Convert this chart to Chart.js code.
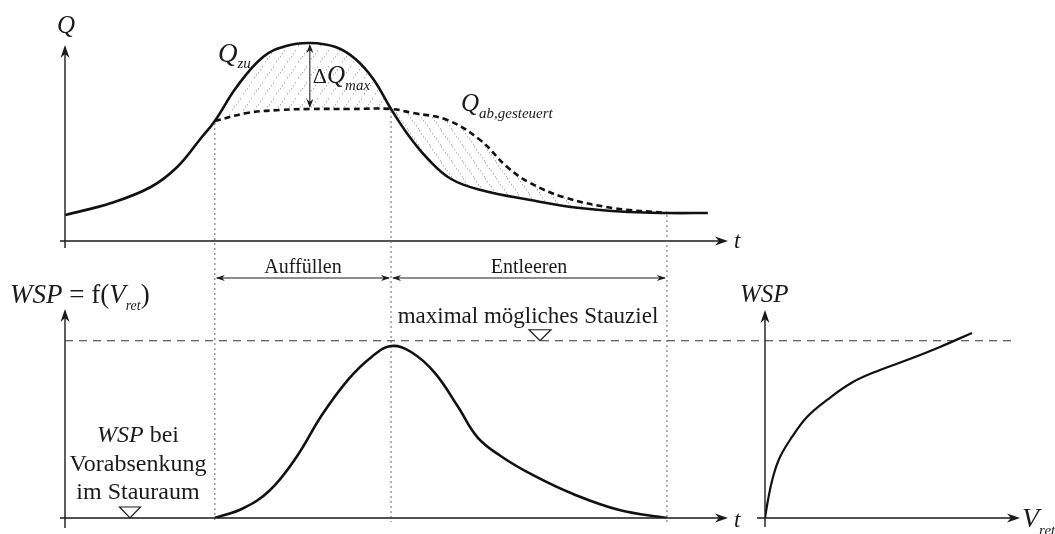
<!DOCTYPE html>
<html>
<head>
<meta charset="utf-8">
<script src="https://cdn.jsdelivr.net/npm/chart.js@4.4.0/dist/chart.umd.min.js"></script>
<style>
  html, body { margin: 0; padding: 0; background: #fff; }
  #wrap { position: relative; width: 1055px; height: 534px; }
  #wrap canvas { position: absolute; left: 0; top: 0; }
</style>
</head>
<body>
<div id="wrap">
  <canvas id="cQ" width="1055" height="534"></canvas>
  <canvas id="cW" width="1055" height="534"></canvas>
  <canvas id="cV" width="1055" height="534"></canvas>
</div>
<script>
// inflow hydrograph Q_zu (t, Q)
const tZu = [0, 7, 13, 17, 20.5, 22.7, 26, 30, 33.5, 37.1, 41, 44, 46.7, 49.4, 52, 55, 58.5, 63, 70.5, 78, 85.6, 91.2, 97.4];
const qZu = [13, 19, 27, 37, 51, 60, 77, 92, 97.5, 99, 97, 91, 81, 66, 53, 41, 31, 25.5, 20.5, 16.5, 14.5, 14, 14];
// controlled outflow Q_ab,gesteuert
const tAb = [22.7, 27.6, 32.6, 37.1, 43, 49.4, 52.7, 57.9, 62.9, 67, 70.5, 75.5, 83, 91.2];
const qAb = [60, 64, 65.5, 66, 66, 66, 64, 60.5, 50.5, 37, 29, 22, 16.5, 14];
// water level over time
const tW = [22.7, 27, 31, 35, 39, 43, 46.5, 49.4, 52.5, 56, 59.5, 62.5, 66, 71, 77, 84, 91.2];
const wT = [0, 5.5, 15.5, 34, 58.5, 78.5, 91, 97, 93.5, 82, 63, 45.5, 35, 24, 13.5, 4.5, 0];
// storage curve WSP = f(V_ret)
const vRet = [0, 1.2, 3.2, 6, 10.8, 16.8, 24.8, 35.2, 46, 56.8, 70, 82.8];
const wV = [0, 10.2, 23.1, 34.4, 45.7, 57, 66.6, 76.7, 83.5, 89.1, 96.5, 104.4];
// phases: start filling, peak, end emptying
const phaseT = [22.7, 49.4, 91.2];
const phaseNames = ['Auffüllen', 'Entleeren'];
const peakT = 37.1;
const stauziel = 100;

const SERIF = '"Liberation Serif", "Times New Roman", serif';
const INK = '#1a1a1a';

function pts(xs, ys) { return xs.map((x, i) => ({x: x, y: ys[i]})); }

function hatch(ctx, dir) {
  const c = document.createElement('canvas');
  c.width = 11; c.height = 16;
  const g = c.getContext('2d');
  g.fillStyle = 'rgba(140,140,140,0.65)';
  for (let i = 0; i < 6; i++) {
    const f = i / 6;
    const x = f * 11;
    const y = dir > 0 ? 16 - f * 16 : f * 16;
    g.fillRect(Math.floor(x), Math.floor(y), 1, 1.5);
  }
  return ctx.createPattern(c, 'repeat');
}

function head(ctx, x, y, ang, len, w) {
  ctx.save();
  ctx.translate(x, y);
  ctx.rotate(ang);
  ctx.beginPath();
  ctx.moveTo(0, 0);
  ctx.lineTo(-len, -w);
  ctx.lineTo(-len * 0.7, 0);
  ctx.lineTo(-len, w);
  ctx.closePath();
  ctx.fill();
  ctx.restore();
}

function axes(ctx, x0, y0, xs, xe, ys, ye) {
  ctx.save();
  ctx.strokeStyle = INK; ctx.fillStyle = INK; ctx.lineWidth = 1.4;
  ctx.beginPath();
  ctx.moveTo(xs, y0); ctx.lineTo(xe - 6, y0);
  ctx.moveTo(x0, ys); ctx.lineTo(x0, ye + 6);
  ctx.stroke();
  head(ctx, xe, y0, 0, 13, 4.5);
  head(ctx, x0, ye, -Math.PI / 2, 13, 4.5);
  ctx.restore();
}

// text made of runs: [text, font, dy]
function runs(ctx, x, y, parts, align) {
  ctx.save();
  ctx.fillStyle = INK;
  ctx.textBaseline = 'alphabetic';
  ctx.textAlign = 'left';
  let total = 0;
  parts.forEach(p => { ctx.font = p[1]; total += ctx.measureText(p[0]).width; });
  let cx = align === 'center' ? x - total / 2 : x;
  parts.forEach(p => {
    ctx.font = p[1];
    ctx.fillText(p[0], cx, y + (p[2] || 0));
    cx += ctx.measureText(p[0]).width;
  });
  ctx.restore();
}

function tri(ctx, cx, yApex, w, h) {
  ctx.save();
  ctx.strokeStyle = INK; ctx.lineWidth = 1.2;
  ctx.beginPath();
  ctx.moveTo(cx - w / 2, yApex - h);
  ctx.lineTo(cx + w / 2, yApex - h);
  ctx.lineTo(cx, yApex);
  ctx.closePath();
  ctx.stroke();
  ctx.restore();
}

function opts(pad, xmin, xmax, ymin, ymax) {
  return {
    responsive: false,
    animation: false,
    events: [],
    layout: {padding: pad},
    plugins: {legend: {display: false}, tooltip: {enabled: false}},
    scales: {
      x: {type: 'linear', min: xmin, max: xmax, display: false},
      y: {type: 'linear', min: ymin, max: ymax, display: false}
    },
    elements: {point: {radius: 0}, line: {tension: 0.4}}
  };
}

const it = s => 'italic ' + s + 'px ' + SERIF;
const up = s => s + 'px ' + SERIF;

// ---------- top: Q over t ----------
const ctxQ = document.getElementById('cQ').getContext('2d');
const chartQ = new Chart(ctxQ, {
  type: 'line',
  data: {
    datasets: [
      {
        label: 'Q_zu',
        data: pts(tZu, qZu),
        borderColor: '#111',
        borderWidth: 2.6,
        fill: false
      },
      {
        label: 'Q_ab,gesteuert',
        data: pts(tAb, qAb),
        borderColor: '#111',
        borderWidth: 2.6,
        borderDash: [6, 4],
        fill: {target: 0, above: hatch(ctxQ, -1), below: hatch(ctxQ, 1)}
      }
    ]
  },
  options: opts({left: 65, right: 330, top: 41, bottom: 293}, 0, 100, 0, 100),
  plugins: [{
    id: 'deco',
    afterDraw(c) {
      const ctx = c.ctx, xs = c.scales.x, ys = c.scales.y, a = c.chartArea;
      const y0 = ys.getPixelForValue(0);
      axes(ctx, a.left, y0, a.left - 5, a.right + 3, y0 + 7, a.top + 4);
      runs(ctx, a.left - 8, 33, [['Q', it(25)]]);
      runs(ctx, a.right + 9, y0 + 7, [['t', it(23)]]);

      // phase lines down through both panels
      ctx.save();
      ctx.strokeStyle = '#666'; ctx.lineWidth = 1; ctx.setLineDash([2, 3]);
      phaseT.forEach(t => {
        const q = qZu[tZu.indexOf(t)];
        const px = xs.getPixelForValue(t);
        ctx.beginPath();
        ctx.moveTo(px, ys.getPixelForValue(q) + 2);
        ctx.lineTo(px, 522);
        ctx.stroke();
      });
      ctx.restore();

      // span arrows
      ctx.save();
      ctx.strokeStyle = INK; ctx.fillStyle = INK; ctx.lineWidth = 1;
      const ya = 278;
      for (let i = 0; i < phaseNames.length; i++) {
        const x1 = xs.getPixelForValue(phaseT[i]), x2 = xs.getPixelForValue(phaseT[i + 1]);
        ctx.beginPath(); ctx.moveTo(x1 + 2, ya); ctx.lineTo(x2 - 2, ya); ctx.stroke();
        head(ctx, x1 + 1, ya, Math.PI, 9, 3);
        head(ctx, x2 - 1, ya, 0, 9, 3);
        runs(ctx, (x1 + x2) / 2, 273, [[phaseNames[i], up(20)]], 'center');
      }
      ctx.restore();

      // delta Q max
      const px = xs.getPixelForValue(peakT);
      const yTop = ys.getPixelForValue(qZu[tZu.indexOf(peakT)]);
      const yBot = ys.getPixelForValue(qAb[tAb.indexOf(peakT)]);
      ctx.save();
      ctx.strokeStyle = INK; ctx.fillStyle = INK; ctx.lineWidth = 1;
      ctx.beginPath(); ctx.moveTo(px, yTop + 4); ctx.lineTo(px, yBot - 4); ctx.stroke();
      head(ctx, px, yTop + 1, -Math.PI / 2, 9, 3.5);
      head(ctx, px, yBot - 1, Math.PI / 2, 9, 3.5);
      ctx.restore();
      runs(ctx, px + 3, 83, [['\u0394', up(22)], ['Q', it(25)], ['max', it(15), 7]]);

      runs(ctx, 218, 62, [['Q', it(27)], ['zu', it(15), 6]]);
      runs(ctx, 461, 111, [['Q', it(25)], ['ab,gesteuert', it(15), 7]]);
    }
  }]
});

// ---------- bottom left: WSP over t ----------
const chartW = new Chart(document.getElementById('cW'), {
  type: 'line',
  data: {
    datasets: [{
      label: 'WSP',
      data: pts(tW, wT),
      borderColor: '#111',
      borderWidth: 2.6,
      fill: false
    }]
  },
  options: opts({left: 65, right: 330, top: 323, bottom: 16}, 0, 100, 0, 110),
  plugins: [{
    id: 'deco2',
    afterDraw(c) {
      const ctx = c.ctx, xs = c.scales.x, ys = c.scales.y, a = c.chartArea;
      const y0 = ys.getPixelForValue(0);
      axes(ctx, a.left, y0, a.left - 5, a.right + 3, y0 + 10, 309);
      runs(ctx, a.right + 9, y0 + 9, [['t', it(23)]]);

      // max possible level
      const ys100 = ys.getPixelForValue(stauziel);
      ctx.save();
      ctx.strokeStyle = '#333'; ctx.lineWidth = 1.2; ctx.setLineDash([8, 6]);
      ctx.beginPath(); ctx.moveTo(a.left, ys100); ctx.lineTo(1015, ys100); ctx.stroke();
      ctx.restore();
      runs(ctx, 528, ys100 - 18, [['maximal m\u00f6gliches Stauziel', up(23)]], 'center');
      tri(ctx, 540, ys100, 22, 11);

      runs(ctx, 10, 303, [['WSP', it(27)], [' = f(', up(27)], ['V', it(27)], ['ret', it(14), 7], [')', up(27)]]);

      runs(ctx, 138, 442, [['WSP', it(24)], [' bei', up(24)]], 'center');
      runs(ctx, 138, 471, [['Vorabsenkung', up(24)]], 'center');
      runs(ctx, 138, 499, [['im Stauraum', up(24)]], 'center');
      tri(ctx, 130, y0, 21, 11);
    }
  }]
});

// ---------- bottom right: WSP over V_ret ----------
const chartV = new Chart(document.getElementById('cV'), {
  type: 'line',
  data: {
    datasets: [{
      label: 'WSP = f(V_ret)',
      data: pts(vRet, wV),
      borderColor: '#111',
      borderWidth: 2.2,
      fill: false
    }]
  },
  options: opts({left: 765, right: 40, top: 323, bottom: 16}, 0, 100, 0, 110),
  plugins: [{
    id: 'deco3',
    afterDraw(c) {
      const ctx = c.ctx, ys = c.scales.y, a = c.chartArea;
      const y0 = ys.getPixelForValue(0);
      axes(ctx, a.left, y0, a.left - 8, a.right + 5, y0 + 9, 310);
      runs(ctx, 740, 302, [['WSP', it(25)]]);
      runs(ctx, 1022, 527, [['V', it(28)], ['ret', it(15), 8]]);
    }
  }]
});
</script>
</body>
</html>
